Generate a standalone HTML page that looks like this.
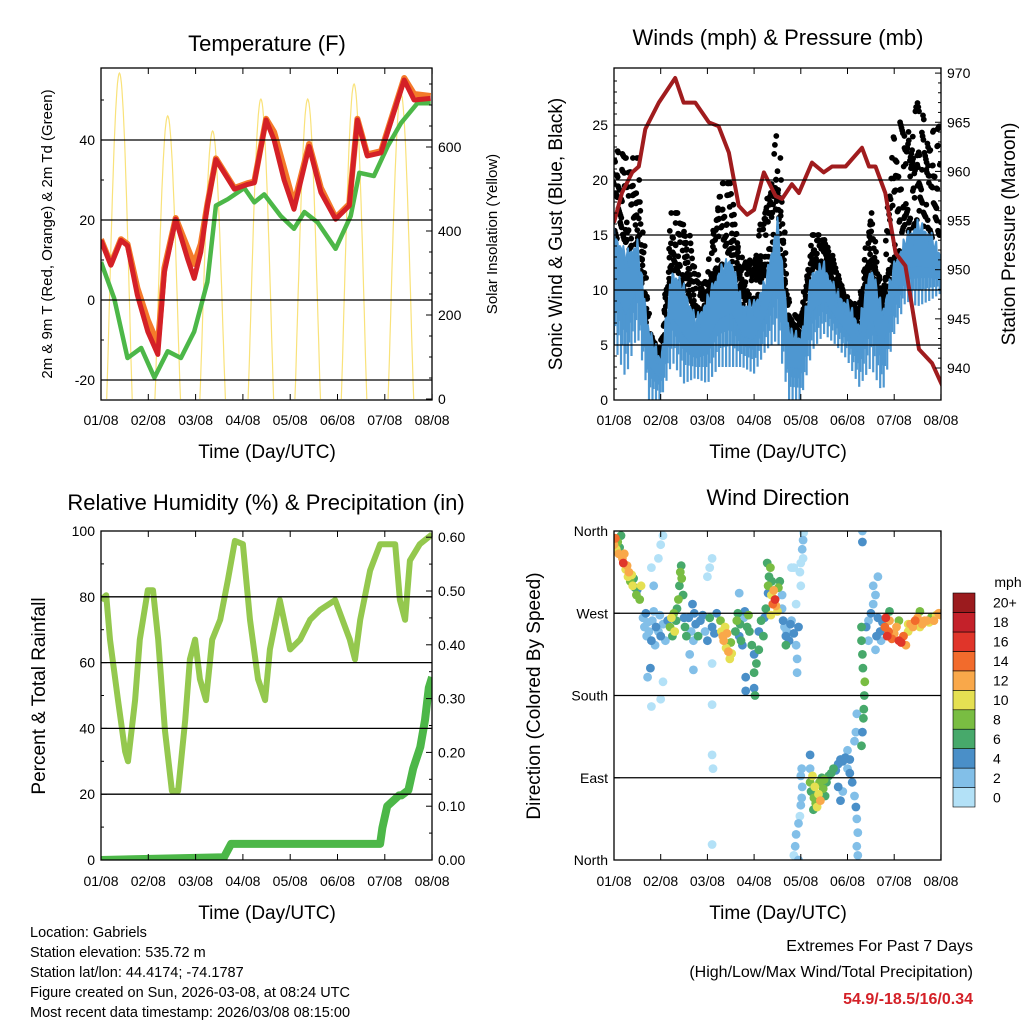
<!DOCTYPE html>
<html><head><meta charset="utf-8"><style>
body{margin:0;background:#fff}
svg{display:block;font-family:"Liberation Sans",sans-serif}
</style></head><body>
<svg id="fig" width="1024" height="1024" viewBox="0 0 1024 1024">
<defs>
<clipPath id="c1"><rect x="101" y="68" width="331" height="332"/></clipPath>
<clipPath id="c2"><rect x="614" y="68" width="327" height="332"/></clipPath>
<clipPath id="c3"><rect x="101" y="531" width="331" height="329"/></clipPath>
<clipPath id="c4"><rect x="614" y="531" width="327" height="329"/></clipPath>
</defs>
<g font-size="22" text-anchor="middle" fill="#000">
<text x="267" y="51">Temperature (F)</text>
<text x="778" y="45">Winds (mph) &amp; Pressure (mb)</text>
<text x="266" y="510">Relative Humidity (%) &amp; Precipitation (in)</text>
<text x="778" y="505">Wind Direction</text>
</g>
<g font-size="19" text-anchor="middle">
<text x="267" y="458">Time (Day/UTC)</text>
<text x="778" y="458">Time (Day/UTC)</text>
<text x="267" y="919">Time (Day/UTC)</text>
<text x="778" y="919">Time (Day/UTC)</text>
<text transform="translate(562,234) rotate(-90)">Sonic Wind &amp; Gust (Blue, Black)</text>
<text transform="translate(1015,234) rotate(-90)">Station Pressure (Maroon)</text>
<text transform="translate(45,696) rotate(-90)">Percent &amp; Total Rainfall</text>
<text transform="translate(540,696) rotate(-90)">Direction (Colored By Speed)</text>
</g>
<g font-size="15" text-anchor="middle">
<text transform="translate(52,234) rotate(-90)">2m &amp; 9m T (Red, Orange) &amp; 2m Td (Green)</text>
<text transform="translate(497,234) rotate(-90)">Solar Insolation (Yellow)</text>
</g>
<g font-size="14.5">
<text x="30" y="937">Location: Gabriels</text>
<text x="30" y="957">Station elevation: 535.72 m</text>
<text x="30" y="977">Station lat/lon: 44.4174; -74.1787</text>
<text x="30" y="997">Figure created on Sun, 2026-03-08, at 08:24 UTC</text>
<text x="30" y="1017">Most recent data timestamp: 2026/03/08 08:15:00</text>
</g>
<g font-size="16" text-anchor="end">
<text x="973" y="951">Extremes For Past 7 Days</text>
<text x="973" y="977">(High/Low/Max Wind/Total Precipitation)</text>
<text x="973" y="1004" fill="#d42027" font-weight="bold">54.9/-18.5/16/0.34</text>
</g>
<g id="plots"></g>
</svg>
<script>
// ---- data ----
const dayLabels = ["01/08","02/08","03/08","04/08","05/08","06/08","07/08","08/08"];
const tempDays = [0,0.21,0.42,0.56,0.77,0.99,1.2,1.34,1.58,1.83,1.97,2.11,2.25,2.43,2.82,3.1,3.24,3.49,3.66,3.87,4.08,4.4,4.65,4.96,5.25,5.42,5.63,5.92,6.41,6.62,6.97];
const tempRed = [14.9,8.7,14.9,13.6,1.2,-7.9,-13.6,7,20.2,10.3,5.4,12,23.6,35.1,27.7,28.9,29.3,45,40,30,22.7,38.4,26.9,20.2,23.6,45,36,36.8,55,50,50.4];
const tempOrange = [15.2,9,15.2,14,3,-5,-11,8,20.5,13,9,14,24,35.4,28,29.2,29.6,45.3,42,33,24,39,28,20.6,24,45.3,36.4,37.2,55.5,51.5,51];
const tdDays = [0,0.28,0.56,0.85,1.13,1.41,1.69,1.97,2.25,2.43,2.68,3.03,3.24,3.45,3.8,4.08,4.3,4.58,4.96,5.28,5.46,5.77,6.06,6.34,6.69,6.97];
const tdGreen = [9.5,0.4,-14.5,-12,-19.4,-12.8,-14.5,-7.9,4.5,23.6,25.2,28,24.4,26.4,21,17.8,22,19.4,12.8,21,31.8,31,38.4,44.2,49.2,49.2];
const solarPeakDays = [0.39,1.41,2.36,3.38,4.37,5.35,6.34];
const solarPeaks = [776,674,638,714,714,750,728];
const windDays = [0,0.25,0.5,0.75,1,1.25,1.5,1.75,2,2.25,2.5,2.75,3,3.25,3.5,3.75,4,4.25,4.5,4.75,5,5.25,5.5,5.75,6,6.25,6.5,6.75,7];
const windLow = [5,2,6,0,0,3.5,1.5,2,1.5,3,3,3,2.4,4.5,5.5,0,0,4.5,6,5,3.6,1.2,3,0.6,6,9,8.5,9,9.7];
const windHigh = [15,13,14,6,3.5,11.5,10,7,9,11.5,12.7,8.5,8.5,10.6,16,6,5.5,11.5,12,9.7,8.5,6.7,12,7.9,12,14.5,15.8,15,13];
const gustHigh = [23,22,22,6,4,17,17,11.5,10.5,19.7,19.7,12,13.4,17.5,24,8,7.3,15,15,12,9,8.5,17,9,26,24,27,24,25];
const presDays = [0,0.17,0.39,0.53,0.67,0.96,1.31,1.49,1.74,2.03,2.24,2.46,2.67,2.85,3.0,3.21,3.46,3.6,3.81,3.96,4.24,4.49,4.67,4.96,5.31,5.46,5.6,5.81,6.03,6.24,6.53,6.81,7.03];
const presMb = [954.8,957.8,959.9,960.5,964.3,967,969.5,967,967,965,964.6,961.9,956.5,955.6,956.1,959.9,957.5,957.2,958.7,957.8,960.9,959.9,960.5,960.5,962.4,960.5,960.5,957.8,951.7,950.4,941.9,940.5,938.2];
const rhDays = [0,0.11,0.19,0.36,0.51,0.57,0.72,0.82,0.99,1.1,1.21,1.35,1.5,1.63,1.78,1.88,1.99,2.09,2.22,2.35,2.52,2.68,2.83,3.0,3.15,3.32,3.47,3.57,3.78,4.0,4.21,4.42,4.63,4.95,5.26,5.37,5.48,5.69,5.9,6.22,6.32,6.43,6.53,6.74,7.0];
const rhValues = [79,80.5,67,48.6,33,30,48.6,67,82,82,67,39.5,21,21,42.5,61,67,55,48.6,67,73,85,97,96,73,55,48.6,64,79,64,67,73,76,79,67,61,73,88,96,96,79,73,91,96,99];
const precipDays = [0,2.6,2.75,5.9,5.95,6.05,6.3,6.35,6.5,6.6,6.75,6.85,6.93,7.0];
const precipValues = [0,0.005,0.03,0.03,0.06,0.1,0.12,0.12,0.13,0.17,0.21,0.26,0.32,0.34];
const dirDays = [0.0,0.03,0.05,0.08,0.1,0.12,0.15,0.18,0.2,0.22,0.25,0.28,0.3,0.32,0.35,0.38,0.4,0.42,0.45,0.48,0.5,0.55,0.58,
0.62,0.65,0.68,0.7,0.72,0.75,0.8,0.82,0.85,0.88,0.9,0.95,0.98,1.0,1.05,1.1,1.15,0.78,0.72,1.05,0.8,1.0,0.8,0.95,1.0,1.05,0.85,
1.2,1.23,1.25,1.28,1.3,1.33,1.35,1.38,1.4,1.42,1.44,1.45,1.48,1.5,1.52,1.55,
1.6,1.65,1.7,1.72,1.75,1.8,1.85,1.9,1.95,2.0,2.05,2.1,2.15,2.2,1.68,1.62,1.7,2.1,2.1,2.1,2.12,2.1,2.0,2.05,2.1,
2.3,2.33,2.35,2.38,2.4,2.42,2.45,2.48,2.5,2.52,2.28,
2.6,2.63,2.65,2.68,2.7,2.72,2.75,2.78,2.8,2.85,2.88,2.9,2.95,3.0,3.0,3.05,3.1,3.15,3.2,3.0,3.02,3.1,2.82,2.82,2.68,3.22,3.25,
3.3,3.32,3.35,3.37,3.4,3.42,3.45,3.47,3.5,3.38,3.3,3.36,3.52,3.55,3.6,3.28,
3.62,3.65,3.68,3.7,3.75,3.78,3.8,3.85,3.9,3.95,3.92,3.92,3.68,3.6,
3.85,3.88,3.9,3.95,3.98,4.0,4.02,4.03,4.0,4.02,3.95,4.0,3.98,4.05,4.03,4.05,4.06,4.0,3.85,3.8,3.9,
4.2,4.22,4.25,4.28,4.3,4.32,4.35,4.38,4.4,4.42,4.45,4.48,4.5,4.52,4.27,
4.55,4.6,4.65,4.7,4.75,4.8,4.85,4.9,4.95,5.0,5.05,5.1,5.15,5.18,5.2,5.22,5.2,5.22,4.8,4.85,4.9,5.0,5.05,5.15,5.18,5.2,4.2,4.2,5.32,5.32,
5.3,5.32,5.34,5.35,5.36,5.37,5.33,5.32,5.3,5.3,
5.4,5.45,5.5,5.55,5.6,5.65,5.7,5.72,5.75,5.45,5.6,5.55,5.65,5.62,
5.8,5.82,5.85,5.88,5.9,5.95,6.0,6.05,6.1,6.15,6.2,6.25,6.3,6.35,6.4,6.45,6.5,6.55,6.6,6.65,6.7,6.75,6.8,6.85,6.9,6.95,7.0,6.3,6.1,5.9,6.55];
const dirDeg = [345,352,340,348,335,342,355,330,325,335,318,322,310,315,305,312,300,308,298,290,296,285,300,
265,255,270,245,260,250,240,262,272,235,255,250,268,245,258,240,262,210,200,195,168,176,320,330,345,355,300,
255,265,245,270,250,262,275,285,300,315,322,308,290,265,255,245,
265,250,240,270,258,245,262,268,250,240,265,255,248,270,280,225,208,215,170,115,100,17,310,320,330,
250,245,240,255,232,248,228,220,238,226,262,
250,262,270,245,258,240,235,265,272,255,268,250,235,225,205,215,250,262,245,188,180,230,200,185,292,265,275,
300,310,320,290,280,295,285,278,272,305,292,268,298,305,290,325,
262,255,245,250,240,258,262,248,235,255,220,205,235,275,
5,15,28,40,48,60,68,80,92,100,0,300,315,330,340,350,358,325,320,320,280,
85,75,92,68,80,62,58,72,85,65,90,78,88,70,55,
85,92,95,100,98,105,110,108,112,100,95,85,70,58,45,30,15,5,80,65,75,120,110,130,140,160,115,100,360,348,
125,140,155,165,180,195,210,225,240,255,
255,262,270,280,290,265,250,240,260,240,230,300,310,245,
255,265,245,250,262,242,248,255,240,238,245,235,250,258,255,262,265,255,258,262,262,260,266,262,268,270,268,258,262,272,272];
const dirSpeed = [12,14,10,8,12,6,7,13,16,12,11,12,10,13,9,11,10,7,6,8,5,9,10,
3,2,4,3,2,3,5,2,3,2,4,3,2,4,2,3,5,4,2,1,1,1,1,0,0,0,2,
8,10,7,9,10,6,7,8,6,8,7,9,7,5,6,7,
4,3,2,5,4,6,5,4,3,4,6,5,4,5,4,2,3,1,1,1,1,1,1,1,1,
11,13,12,10,11,13,12,10,9,11,8,
7,8,6,5,7,6,4,3,4,7,8,7,6,5,7,6,5,6,7,4,6,7,4,4,2,4,6,
8,7,9,10,14,12,16,13,11,6,4,10,9,6,3,6,
4,3,4,3,5,4,3,4,3,4,2,3,6,2,
1,2,2,2,1,2,2,2,3,2,2,1,1,1,2,2,1,1,1,1,1,
8,7,10,8,10,9,10,11,8,12,7,9,8,6,7,
7,6,7,6,5,4,4,4,4,3,4,4,3,4,3,3,2,2,4,4,3,2,4,2,2,2,4,2,3,4,
6,5,6,7,7,8,6,7,6,7,
4,3,4,3,3,4,4,3,5,2,2,3,3,4,
14,16,17,14,12,15,13,12,16,17,14,12,11,12,13,14,12,11,12,13,12,11,9,12,10,12,13,10,8,6,8];
const speedColors = ["#b3e1f7","#82bfe8","#4a8fc8","#47a96b","#79bd42","#e5e052","#f9a84a","#f26b2c","#e0352a","#c4212a","#9b1b1e"];
const speedLabels = ["0","2","4","6","8","10","12","14","16","18","20+"];

// ---- helpers ----
const NS="http://www.w3.org/2000/svg";
const root=document.getElementById('plots');
function mk(tag,attrs,parent){const e=document.createElementNS(NS,tag);for(const k in attrs)e.setAttribute(k,attrs[k]);(parent||root).appendChild(e);return e;}
function interp(xs,ys,t){if(t<=xs[0])return ys[0];for(let i=1;i<xs.length;i++){if(t<=xs[i]){const f=(t-xs[i-1])/(xs[i]-xs[i-1]);return ys[i-1]+f*(ys[i]-ys[i-1]);}}return ys[ys.length-1];}
function pathFrom(xs,ys,fx,fy){return xs.map((d,i)=>(i?'L':'M')+fx(d).toFixed(1)+','+fy(ys[i]).toFixed(1)).join(' ');}

function frame(name,x0,y0,x1,y1,leftTicks,leftFy,leftLbl,minorL,rightTicks,rightFy,rightLbl,minorR,gridVals,xFn,xLblY){
  const g=mk('g',{});
  
  
  gridVals.forEach(v=>{const y=leftFy(v);const l=mk('line',{x1:x0,x2:x1,y1:y,y2:y,stroke:'#000','stroke-width':1.3},g);});
  leftTicks.forEach((v,i)=>{const y=leftFy(v);mk('line',{x1:x0,x2:x0+6,y1:y,y2:y,stroke:'#000'},g);
    const t=mk('text',{x:x0-6,y:y+5,'text-anchor':'end','font-size':14},g);t.textContent=leftLbl[i];});
  minorL.forEach(v=>{const y=leftFy(v);mk('line',{x1:x0,x2:x0+3,y1:y,y2:y,stroke:'#000'},g);});
  rightTicks.forEach((v,i)=>{const y=rightFy(v);mk('line',{x1:x1-6,x2:x1,y1:y,y2:y,stroke:'#000'},g);
    const t=mk('text',{x:x1+6,y:y+5,'text-anchor':'start','font-size':14},g);t.textContent=rightLbl[i];});
  minorR.forEach(v=>{const y=rightFy(v);mk('line',{x1:x1-3,x2:x1,y1:y,y2:y,stroke:'#000'},g);});
  dayLabels.forEach((lb,i)=>{const x=xFn(i);mk('line',{x1:x,x2:x,y1:y1,y2:y1-6,stroke:'#000'},g);mk('line',{x1:x,x2:x,y1:y0,y2:y0+6,stroke:'#000'},g);
    const t=mk('text',{x:x,y:xLblY,'text-anchor':'middle','font-size':14},g);t.textContent=lb;});
  const r=mk('rect',{x:x0,y:y0,width:x1-x0,height:y1-y0,fill:'none',stroke:'#000','stroke-width':1.3},g);
  
}

// ---- Panel 1: Temperature ----
const x1f=d=>101+d*47.3, yT=t=>300-4*t, yS=v=>399-0.42*v;
{
 const g=mk('g',{'clip-path':'url(#c1)'});
 
 
 solarPeakDays.forEach((pd,i)=>{
   let d='';const hw=0.27;
   for(let k=0;k<=40;k++){const t=pd-hw+k*(2*hw)/40;const f=Math.cos(Math.PI*(t-pd)/(2*hw));const v=solarPeaks[i]*Math.pow(Math.max(0,f),1.1);d+=(k?'L':'M')+x1f(t).toFixed(1)+','+yS(v).toFixed(1);}
   const p=mk('path',{d:d,fill:'none',stroke:'#f9e27a','stroke-width':1.2},g);
   
   
 });
 const go=mk('path',{d:pathFrom(tdDays,tdGreen,x1f,yT),fill:'none',stroke:'#4cb748','stroke-width':4.5,'stroke-linejoin':'round'},g);
 
 
 const po=mk('path',{d:pathFrom(tempDays,tempOrange,x1f,yT),fill:'none',stroke:'#f47a2a','stroke-width':6,'stroke-linejoin':'round'},g);
 
 
 const pr=mk('path',{d:pathFrom(tempDays,tempRed,x1f,yT),fill:'none',stroke:'#d42027','stroke-width':5,'stroke-linejoin':'round'},g);
 
 
}
frame('temperature',101,68,432,400,[-20,0,20,40],yT,['-20','0','20','40'],[-10,10,30,50],[0,200,400,600],yS,['0','200','400','600'],[50,100,150,250,300,350,450,500,550,650,700,750],[-20,0,20,40],i=>x1f(i),425);

// ---- Panel 2: Winds & Pressure ----
const x2f=d=>614+d*46.7, yW=m=>400-11*m, yP=p=>368-(p-940)*9.83;
{
 const g=mk('g',{'clip-path':'url(#c2)'});
 
 
 const gd=mk('g',{fill:'#000'},g);
 
 
 const fr=[0.15,0.5,0.85,0.35,0.7,1.0,0.05,0.25,0.6];
 for(let i=0;i<windDays.length-1;i++){
   for(let k=0;k<8;k++){
     const t=windDays[i]+(windDays[i+1]-windDays[i])*k/8;
     const hi=interp(windDays,windHigh,t), gu=interp(windDays,gustHigh,t);
     for(let j=0;j<5;j++){const f=fr[(i*3+k*2+j*2)%9];const m=hi+(gu-hi)*f;
       const jx=(((i*7+k*3+j*5)%9)-4)*0.008;
       mk('circle',{cx:x2f(t+jx).toFixed(1),cy:yW(m).toFixed(1),r:2.9},gd);}
   }
 }
 const bg=mk('g',{},g);
 
 
 let d='';const sub=[];
 for(let i=0;i<windDays.length-1;i++)for(let k=0;k<10;k++)sub.push(windDays[i]+(windDays[i+1]-windDays[i])*k/10);
 sub.push(windDays[windDays.length-1]);
 sub.forEach((t,i)=>{const hi=interp(windDays,windHigh,t);const jit=(i%3===1)?-1.2:(i%4===0?0.6:0);d+=(i?'L':'M')+x2f(t).toFixed(1)+','+yW(hi+jit).toFixed(1);});
 for(let i=sub.length-1;i>=0;i--){const t=sub[i];const lo=interp(windDays,windLow,t),hi=interp(windDays,windHigh,t);d+='L'+x2f(t).toFixed(1)+','+yW((lo+hi)/2).toFixed(1);}
 mk('path',{d:d+'Z',fill:'#4e97d1',stroke:'#4e97d1','stroke-width':2,'stroke-linejoin':'round'},bg);
 sub.forEach((t,i)=>{const lo=interp(windDays,windLow,t),hi=interp(windDays,windHigh,t);const mid=(lo+hi)/2;
   const bot=(i%3===0)?lo:((i%3===1)?mid+(lo-mid)*0.6:mid+(lo-mid)*0.3);
   mk('line',{x1:x2f(t).toFixed(1),x2:x2f(t).toFixed(1),y1:yW(mid).toFixed(1),y2:yW(bot).toFixed(1),stroke:'#4e97d1','stroke-width':2.2},bg);});
 const p=mk('path',{d:pathFrom(presDays,presMb,x2f,yP),fill:'none',stroke:'#a01c1e','stroke-width':4,'stroke-linejoin':'round'},g);
 
 
}
frame('winds',614,68,941,400,[0,5,10,15,20,25],yW,['0','5','10','15','20','25'],[1,2,3,4,6,7,8,9,11,12,13,14,16,17,18,19,21,22,23,24,26,27,28,29],[940,945,950,955,960,965,970],yP,['940','945','950','955','960','965','970'],[941,942,943,944,946,947,948,949,951,952,953,954,956,957,958,959,961,962,963,964,966,967,968,969],[5,10,15,20,25],i=>x2f(i),425);

// ---- Panel 3: RH & Precip ----
const yRH=r=>860-3.29*r, yPr=v=>860-538*v;
{
 const g=mk('g',{'clip-path':'url(#c3)'});
 
 
 const r=mk('path',{d:pathFrom(rhDays,rhValues,x1f,yRH),fill:'none',stroke:'#94c84e','stroke-width':6,'stroke-linejoin':'round'},g);
 
 
 const p=mk('path',{d:pathFrom(precipDays,precipValues,x1f,yPr),fill:'none',stroke:'#4cb748','stroke-width':8,'stroke-linejoin':'round'},g);
 
 
}
frame('humidity',101,531,432,860,[0,20,40,60,80,100],yRH,['0','20','40','60','80','100'],[10,30,50,70,90],[0,0.1,0.2,0.3,0.4,0.5,0.6],yPr,['0.00','0.10','0.20','0.30','0.40','0.50','0.60'],[0.05,0.15,0.25,0.35,0.45,0.55],[20,40,60,80],i=>x1f(i),886);

// ---- Panel 4: Wind Direction ----
const yD=d=>860-d*329/360;
{
 const g=mk('g',{'clip-path':'url(#c4)'});
 
 
 const order=dirDays.map((_,i)=>i).sort((a,b)=>dirSpeed[a]-dirSpeed[b]);
 order.forEach(i=>{
   const bin=Math.min(10,Math.floor(dirSpeed[i]/2));
   const c=mk('circle',{cx:x2f(dirDays[i]).toFixed(1),cy:yD(dirDeg[i]).toFixed(1),r:4.4,fill:speedColors[bin]},g);
   
   
 });
}
frame('wind-direction',614,531,941,860,[0,90,180,270,360],yD,['North','East','South','West','North'],[],[],yD,[],[],[90,180,270],i=>x2f(i),886);

{
 const g=mk('g',{});
 
 
 const t=mk('text',{x:1008,y:587,'text-anchor':'middle','font-size':14},g);t.textContent='mph';
 const top=593,h=214/11;
 speedColors.forEach((c,i)=>{
   const y=top+(10-i)*h;
   const r=mk('rect',{x:953,y:y.toFixed(1),width:22,height:h.toFixed(1),fill:c,stroke:'#000','stroke-width':0.6},g);
   
   
   const l=mk('text',{x:993,y:(y+h/2+5).toFixed(1),'font-size':14},g);l.textContent=speedLabels[i];
   
   
 });
}
</script>
</body></html>
